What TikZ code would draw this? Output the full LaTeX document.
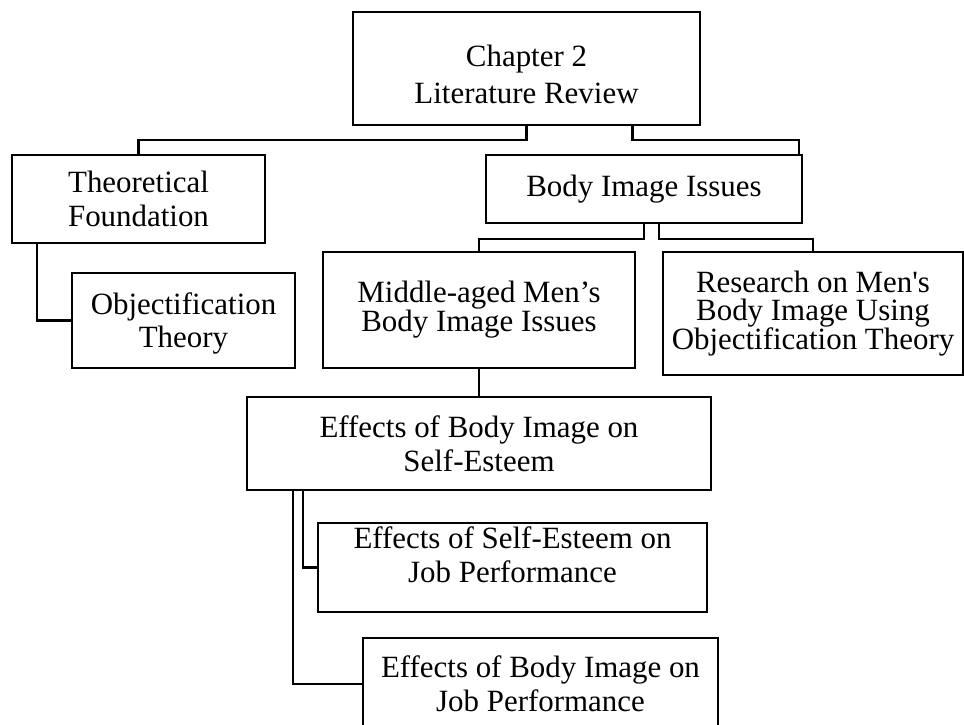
\documentclass[tikz,border=0pt]{standalone}
\usepackage{fontspec}
\setmainfont{Liberation Serif}
\usetikzlibrary{calc}

\tikzset{
    box/.style={draw, line width=1.2pt, align=center, inner sep=0pt,
        font=\fontsize{17.6}{19.3}\selectfont},
    tight/.style={font=\fontsize{17.6}{16.4}\selectfont},
    link/.style={line width=1.2pt}
}

\begin{document}
\begin{tikzpicture}[x=0.02cm, y=-0.02cm]
    \useasboundingbox (0,0) rectangle (964,724);
    \node[box, minimum width=6.94cm, minimum height=2.26cm, text height=40pt,
        font=\fontsize{17.6}{21}\selectfont] (b_0) at (526.5,68.5) {Chapter 2\\Literature Review};
    \node[box, minimum width=5.06cm, minimum height=1.76cm] (b_1) at (138.5,199) {Theoretical\\Foundation};
    \node[box, minimum width=4.46cm, minimum height=1.90cm, text height=35pt] (b_2) at (183.5,320.5) {Objectification\\Theory};
    \node[box, minimum width=6.32cm, minimum height=1.36cm] (b_3) at (644,189) {Body Image Issues};
    \node[box, tight, minimum width=6.24cm, minimum height=2.32cm] (b_4) at (479,310) {Middle-aged Men’s\\Body Image Issues};
    \node[box, tight, minimum width=6.00cm, minimum height=2.46cm] (b_5) at (813,313.5) {Research on Men\textquotesingle s\\Body Image Using\\Objectification Theory};
    \node[box, minimum width=9.28cm, minimum height=1.86cm] (b_6) at (479,443.5) {Effects of Body Image on\\Self-Esteem};
    \node[box, minimum width=7.78cm, minimum height=1.78cm, text depth=15pt] (b_7) at (512.5,567.5) {Effects of Self-Esteem on\\Job Performance};
    \node[box, minimum width=7.10cm, minimum height=1.84cm] (b_8) at (540.5,684) {Effects of Body Image on\\Job Performance};

    % chapter to the two main parts
    \draw[link] (b_0.south) -- ++(0,14) -| (b_1.north);
    \draw[link] ($(b_0.south)+(106,0)$) -- ++(0,14) -| ($(b_3.north east)+(-4,0)$);
    \draw[link] ($(b_1.south west)+(26,0)$) |- (b_2.west);
    % body image issues
    \draw[link] (b_3.south) -- ++(0,15) -| (b_4.north);
    \draw[link] ($(b_3.south)+(15,0)$) -- ++(0,15) -| (b_5.north);
    \draw[link] (b_4.south) -- (b_6.north);
    % effects
    \draw[link] ($(b_6.south west)+(57,0)$) |- (b_7.west);
    \draw[link] ($(b_6.south west)+(47,0)$) |- (b_8.west);
\end{tikzpicture}
\end{document}
